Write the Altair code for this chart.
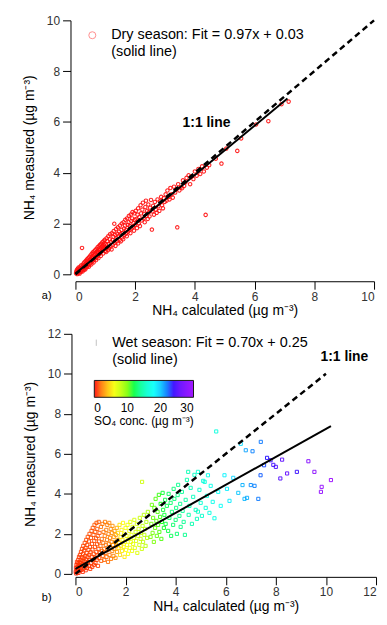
import altair as alt
import pandas as pd

FONT = "Liberation Sans"

# ---------------- data: dry season (panel a): (NH4 calculated, NH4 measured) ----------------
dry_points = [
    (0.02, 0.04), (0.03, 0.12), (0.04, 0.07), (0.05, 0.18), (0.06, 0.01), (0.07, 0.10), (0.08, 0.22),
    (0.09, 0.05), (0.10, 0.14), (0.11, 0.27), (0.12, 0.08), (0.13, 0.19), (0.14, 0.03), (0.15, 0.24),
    (0.16, 0.13), (0.17, 0.31), (0.18, 0.09), (0.19, 0.20), (0.20, 0.36), (0.21, 0.15), (0.22, 1.04),
    (0.23, 0.28), (0.24, 0.11), (0.25, 0.33), (0.26, 0.22), (0.27, 0.42), (0.28, 0.17), (0.29, 0.30),
    (0.30, 0.47), (0.31, 0.24), (0.32, 0.38), (0.33, 0.19), (0.34, 0.52), (0.35, 0.33), (0.36, 0.44),
    (0.37, 0.27), (0.38, 0.58), (0.39, 0.40), (0.40, 0.31), (0.41, 0.50), (0.42, 0.63), (0.43, 0.37),
    (0.44, 0.47), (0.45, 0.30), (0.46, 0.68), (0.47, 0.55), (0.48, 0.41), (0.49, 0.60), (0.50, 0.74),
    (0.51, 0.46), (0.52, 0.57), (0.53, 0.39), (0.54, 0.80), (0.55, 0.66), (0.56, 0.50), (0.57, 0.71),
    (0.58, 0.86), (0.59, 0.55), (0.60, 0.64), (0.61, 0.47), (0.62, 0.90), (0.63, 0.75), (0.64, 0.60),
    (0.65, 0.82), (0.66, 0.95), (0.67, 0.66), (0.68, 0.78), (0.69, 0.56), (0.70, 1.00), (0.71, 0.85),
    (0.72, 0.68), (0.73, 0.91), (0.74, 1.06), (0.75, 0.74), (0.76, 0.88), (0.77, 0.64), (0.78, 1.10),
    (0.79, 0.95), (0.80, 0.79), (0.81, 1.02), (0.82, 1.16), (0.83, 0.85), (0.84, 0.97), (0.85, 0.72),
    (0.86, 1.20), (0.87, 1.05), (0.88, 0.90), (0.89, 1.12), (0.90, 1.26), (0.91, 0.95), (0.92, 1.08),
    (0.93, 0.82), (0.94, 1.30), (0.95, 1.14), (0.96, 1.00), (0.97, 1.22), (0.98, 1.36), (0.99, 1.05),
    (1.00, 0.92),
    (1.01, 1.18), (1.03, 0.88), (1.04, 1.42), (1.06, 1.05), (1.07, 1.30), (1.09, 0.95), (1.10, 1.50),
    (1.12, 1.20), (1.13, 1.02), (1.15, 1.38), (1.16, 1.58), (1.18, 1.10), (1.19, 1.27), (1.21, 0.98),
    (1.22, 1.62), (1.24, 1.35), (1.25, 1.15), (1.27, 1.48), (1.28, 1.70), (1.30, 1.99), (1.31, 1.25),
    (1.33, 1.55), (1.34, 1.12), (1.36, 1.78), (1.37, 1.42), (1.39, 1.30), (1.40, 1.60), (1.42, 1.85),
    (1.43, 1.22), (1.45, 1.50), (1.46, 1.68), (1.48, 1.35), (1.49, 1.92), (1.51, 1.58), (1.52, 1.30),
    (1.54, 1.75), (1.55, 2.00), (1.57, 1.45), (1.58, 1.62), (1.60, 1.38), (1.61, 2.05), (1.63, 1.80),
    (1.64, 1.55), (1.66, 1.92), (1.67, 2.15), (1.69, 1.60), (1.70, 1.75), (1.72, 1.50), (1.73, 2.20),
    (1.75, 1.95), (1.76, 1.68), (1.78, 2.05), (1.79, 2.30), (1.81, 1.75), (1.82, 1.90), (1.84, 1.62),
    (1.85, 2.35), (1.87, 2.10), (1.88, 1.80), (1.90, 2.20), (1.91, 2.45), (1.93, 1.88), (1.94, 2.02),
    (1.96, 1.72), (1.97, 2.40), (1.99, 2.15),
    (2.00, 1.95), (2.02, 2.50), (2.04, 2.18), (2.06, 1.82), (2.08, 2.35), (2.10, 2.60), (2.12, 2.00),
    (2.14, 2.25), (2.16, 1.90), (2.18, 2.72), (2.20, 2.40), (2.22, 2.12), (2.24, 2.55), (2.26, 2.82),
    (2.28, 2.20), (2.30, 2.38), (2.32, 2.05), (2.34, 2.65), (2.36, 2.90), (2.38, 2.30), (2.40, 2.50),
    (2.42, 2.18), (2.44, 2.75), (2.46, 2.45), (2.48, 2.28), (2.50, 2.62), (2.53, 2.93), (2.56, 1.76),
    (2.58, 2.48), (2.60, 2.70), (2.63, 2.35), (2.66, 2.85), (2.69, 2.55), (2.72, 2.42), (2.75, 2.95),
    (2.78, 2.68), (2.81, 2.50), (2.84, 2.88), (2.87, 3.05), (2.90, 2.72), (2.93, 2.60), (2.96, 3.00),
    (2.99, 2.85),
    (3.02, 3.15), (3.05, 2.90), (3.08, 3.30), (3.12, 3.05), (3.15, 2.95), (3.18, 3.40), (3.22, 3.15),
    (3.26, 3.02), (3.30, 3.45), (3.34, 3.22), (3.38, 3.35), (3.41, 1.85), (3.44, 3.55), (3.48, 3.30),
    (3.52, 3.42), (3.57, 3.39), (3.60, 3.70), (3.64, 3.48), (3.68, 3.62), (3.72, 3.80), (3.79, 3.90),
    (3.84, 3.55), (3.88, 3.85), (3.95, 3.75), (4.00, 4.05), (4.06, 3.88), (4.12, 4.15), (4.18, 3.95),
    (4.24, 4.25), (4.30, 4.05), (4.36, 2.34), (4.40, 4.20), (4.48, 4.30),
    (4.70, 4.55), (4.89, 4.36), (5.05, 4.95), (5.42, 4.86), (5.55, 5.35), (6.05, 5.90), (6.46, 6.03),
    (6.90, 6.70), (7.14, 6.80),
]

# ---------------- data: wet season (panel b): (NH4 calculated, NH4 measured, SO4) ----------------
wet_points = [
    (0.01, 0.10, 0.2), (0.02, 0.30, 0.2), (0.03, 0.02, 0.2), (0.04, 0.45, 0.3), (0.05, 0.18, 0.2),
    (0.06, 0.60, 0.4), (0.07, 0.08, 0.3), (0.08, 0.35, 0.3), (0.09, 0.52, 0.4), (0.10, 0.22, 0.3),
    (0.11, 0.70, 0.5), (0.12, 0.05, 0.3), (0.13, 0.40, 0.4), (0.14, 0.85, 0.6), (0.15, 0.28, 0.4),
    (0.16, 0.58, 0.5), (0.17, 0.15, 0.3), (0.18, 0.95, 0.6), (0.19, 0.45, 0.5), (0.20, 0.70, 0.6),
    (0.21, 0.30, 0.4), (0.22, 1.10, 0.7), (0.23, 0.55, 0.5), (0.24, 0.20, 0.4), (0.25, 0.82, 0.6),
    (0.26, 1.25, 0.8), (0.27, 0.40, 0.5), (0.28, 0.65, 0.6), (0.29, 0.10, 0.3), (0.30, 1.00, 0.7),
    (0.31, 1.40, 0.8), (0.32, 0.50, 0.5), (0.33, 0.78, 0.6), (0.34, 0.28, 0.4), (0.35, 1.18, 0.7),
    (0.36, 0.62, 0.6), (0.37, 1.55, 0.9), (0.38, 0.38, 0.5), (0.39, 0.90, 0.7), (0.40, 1.30, 0.8),
    (0.41, 0.18, 0.4), (0.42, 0.72, 0.6), (0.43, 1.70, 0.9), (0.44, 0.48, 0.5), (0.45, 1.05, 0.7),
    (0.46, 0.30, 0.5), (0.47, 1.45, 0.8), (0.48, 0.85, 0.7), (0.49, 1.85, 1.0), (0.50, 0.60, 0.6),
    (0.52, 1.20, 0.8), (0.53, 0.40, 0.5), (0.54, 1.62, 0.9), (0.55, 0.95, 0.7), (0.56, 2.00, 1.0),
    (0.57, 0.70, 0.6), (0.58, 1.35, 0.8), (0.59, 0.25, 0.5), (0.60, 1.08, 0.8), (0.62, 1.80, 1.0),
    (0.63, 0.55, 0.6), (0.64, 2.15, 1.1), (0.65, 0.85, 0.7), (0.66, 1.50, 0.9), (0.67, 0.35, 0.5),
    (0.68, 1.22, 0.8), (0.69, 2.30, 1.1), (0.70, 0.68, 0.7), (0.72, 1.95, 1.0), (0.73, 1.00, 0.8),
    (0.74, 0.45, 0.6), (0.75, 1.65, 0.9), (0.76, 2.45, 1.2), (0.77, 0.80, 0.7), (0.78, 1.35, 0.9),
    (0.79, 2.10, 1.1), (0.80, 0.55, 0.6), (0.82, 1.78, 1.0), (0.83, 1.10, 0.8), (0.84, 2.55, 1.2),
    (0.85, 0.70, 0.7), (0.86, 1.48, 0.9), (0.87, 2.25, 1.1), (0.88, 0.92, 0.8), (0.89, 1.90, 1.0),
    (0.90, 0.40, 0.6), (0.92, 1.25, 0.9), (0.93, 2.60, 1.3), (0.94, 1.62, 1.0), (0.95, 0.80, 0.8),
    (0.96, 2.05, 1.1), (0.97, 1.05, 0.8),
    (1.00, 1.40, 1.6), (1.02, 2.35, 2.0), (1.03, 0.65, 1.4), (1.05, 1.75, 1.8), (1.06, 1.15, 1.6),
    (1.08, 2.50, 2.1), (1.09, 0.90, 1.5), (1.11, 1.55, 1.9), (1.12, 2.10, 2.0), (1.14, 1.25, 1.8),
    (1.15, 0.70, 1.6), (1.17, 1.90, 2.1), (1.18, 2.60, 2.3), (1.20, 1.05, 1.8), (1.21, 1.45, 2.0),
    (1.23, 2.20, 2.3), (1.24, 0.85, 1.8), (1.26, 1.70, 2.2), (1.27, 2.45, 2.4), (1.29, 1.20, 2.1),
    (1.30, 0.60, 1.9), (1.32, 2.00, 2.4), (1.33, 1.50, 2.3), (1.35, 2.55, 2.6), (1.36, 0.95, 2.1),
    (1.38, 1.80, 2.5), (1.39, 1.30, 2.4), (1.41, 2.25, 2.7), (1.42, 0.75, 2.2), (1.44, 1.60, 2.6),
    (1.45, 2.05, 2.8), (1.47, 1.15, 2.5), (1.48, 2.40, 2.9), (1.50, 1.45, 2.8), (1.52, 0.90, 2.6),
    (1.53, 1.85, 3.0), (1.55, 1.25, 2.9), (1.56, 2.15, 3.1), (1.58, 1.60, 3.1), (1.60, 0.80, 2.9),
    (1.61, 1.95, 3.3), (1.63, 1.40, 3.2), (1.65, 2.30, 3.4), (1.66, 1.10, 3.2), (1.68, 1.70, 3.4),
    (1.70, 2.05, 4.6), (1.72, 1.30, 4.5), (1.74, 1.55, 4.7), (1.76, 2.45, 4.9), (1.78, 0.95, 4.6),
    (1.80, 1.85, 5.0), (1.82, 1.40, 4.9), (1.84, 2.20, 5.2), (1.86, 1.15, 5.0), (1.88, 1.70, 5.3),
    (1.90, 2.55, 5.5), (1.92, 1.35, 5.3), (1.94, 2.00, 5.6), (1.96, 0.85, 5.1), (1.98, 1.60, 5.6),
    (2.00, 2.30, 5.9), (2.02, 1.20, 5.6), (2.04, 1.90, 6.0), (2.06, 1.45, 5.9), (2.08, 2.45, 6.2),
    (2.10, 1.00, 5.8), (2.12, 1.75, 6.2), (2.15, 2.15, 6.4), (2.17, 1.30, 6.1), (2.19, 2.60, 6.6),
    (2.21, 1.60, 6.4), (2.24, 1.95, 6.6), (2.26, 1.15, 6.3), (2.28, 2.35, 6.8), (2.30, 1.50, 6.6),
    (2.33, 1.80, 6.9), (2.35, 2.70, 7.1), (2.37, 1.30, 6.8), (2.40, 2.10, 7.2), (2.42, 1.65, 7.1),
    (2.45, 2.50, 7.4), (2.47, 1.05, 6.9), (2.50, 1.90, 7.4), (2.52, 2.25, 7.6), (2.55, 1.45, 7.4),
    (2.57, 2.80, 7.8), (2.60, 1.75, 7.7), (2.62, 2.05, 7.9), (2.65, 1.25, 7.6), (2.66, 4.60, 7.5),
    (2.68, 2.40, 8.1), (2.70, 1.60, 8.0), (2.73, 2.95, 8.3), (2.75, 1.95, 8.2), (2.78, 2.25, 8.4),
    (2.80, 1.40, 8.2), (2.83, 2.60, 8.6), (2.86, 1.80, 8.5), (2.89, 3.10, 8.9),
    (3.00, 1.85, 10.0), (3.03, 2.50, 10.2), (3.05, 3.45, 10.4), (3.08, 2.05, 10.2), (3.10, 2.80, 10.5),
    (3.13, 1.60, 10.1), (3.15, 3.30, 10.7), (3.18, 2.30, 10.6), (3.20, 3.75, 10.9), (3.23, 2.65, 10.8),
    (3.25, 1.90, 10.6), (3.28, 3.10, 11.0), (3.30, 2.45, 11.0), (3.33, 3.95, 11.3), (3.35, 2.10, 11.0),
    (3.38, 2.85, 11.3), (3.40, 3.50, 11.5), (3.43, 1.75, 11.0), (3.45, 2.60, 11.5), (3.48, 4.05, 11.8),
    (3.50, 3.20, 11.8), (3.53, 2.30, 11.6), (3.55, 2.95, 11.9), (3.58, 3.70, 12.1),
    (3.60, 2.50, 12.0), (3.65, 3.40, 12.3), (3.70, 2.15, 12.1), (3.72, 4.00, 12.6), (3.75, 2.80, 12.5),
    (3.80, 3.55, 12.8), (3.82, 1.90, 12.3), (3.85, 3.10, 12.9), (3.90, 2.45, 12.8), (3.92, 4.25, 13.2),
    (3.95, 3.75, 13.2), (4.00, 2.70, 13.1), (4.02, 3.30, 13.3), (4.05, 2.00, 12.9), (4.08, 3.94, 13.6),
    (4.10, 4.45, 13.8), (4.15, 2.90, 13.6), (4.18, 3.50, 13.8), (4.20, 2.35, 13.5), (4.25, 4.10, 14.1),
    (4.28, 3.15, 14.0), (4.32, 2.60, 13.9), (4.37, 1.95, 13.8), (4.40, 3.70, 14.4), (4.45, 4.70, 14.7),
    (4.50, 5.10, 14.9), (4.52, 2.95, 14.5), (4.55, 3.40, 14.7), (4.60, 4.30, 15.0), (4.65, 2.50, 14.7),
    (4.70, 3.85, 15.2), (4.75, 4.95, 15.5), (4.80, 3.20, 15.3), (4.85, 2.75, 15.2), (4.89, 3.11, 15.5),
    (4.89, 5.10, 15.9), (4.95, 4.20, 15.9), (5.00, 3.55, 15.9), (5.05, 2.90, 15.7), (5.10, 4.65, 16.3),
    (5.16, 4.60, 16.5), (5.20, 3.30, 16.3), (5.25, 3.90, 16.6), (5.29, 4.93, 17.0), (5.35, 3.05, 16.6),
    (5.40, 4.40, 17.2), (5.48, 3.60, 17.1), (5.55, 2.78, 16.9),
    (5.62, 7.12, 16.5), (5.70, 4.10, 17.8), (5.80, 3.40, 17.9), (5.95, 4.93, 18.7), (6.05, 4.25, 18.9),
    (6.15, 3.65, 19.0), (6.30, 4.80, 19.7), (6.50, 4.05, 20.1), (6.60, 6.50, 19.5), (6.67, 4.44, 20.6),
    (6.80, 6.18, 21.0), (6.75, 3.75, 20.5), (6.85, 3.80, 20.8), (7.00, 4.44, 21.5), (7.07, 6.13, 21.8),
    (7.15, 4.40, 21.8), (7.30, 3.75, 22.0), (7.39, 4.93, 22.6), (7.40, 6.60, 22.0), (7.53, 5.43, 23.0),
    (7.65, 5.80, 23.5), (7.79, 5.68, 24.0), (7.90, 5.45, 24.3), (8.00, 5.35, 24.6), (8.18, 4.77, 25.0),
    (8.25, 5.71, 25.5), (8.45, 5.02, 25.8), (8.84, 5.10, 24.0),
    (9.30, 5.63, 28.0), (9.54, 5.10, 28.5), (9.80, 4.10, 29.0), (9.83, 4.35, 29.3), (10.20, 4.69, 29.8),
]

# reference lines
one_to_one_x = [0.0, 10.0]
one_to_one_y = [0.0, 10.0]
dry_fit_x = [0.0, 7.1]
dry_fit_y = [0.03, 6.92]
wet_fit_x = [0.0, 10.2]
wet_fit_y = [0.25, 7.39]

# axes / colour scale
top_ticks = [0, 2, 4, 6, 8, 10]
bottom_ticks = [0, 2, 4, 6, 8, 10, 12]
so4_ticks = [0, 10, 20, 30]
so4_stops = [0, 2.5, 5.6, 11.5, 18.4, 23.3, 30]
so4_colors = ["#ff0000", "#ff7f00", "#ffff00", "#00ff00", "#00ffff", "#0000ff", "#9900ff"]

dry_df = pd.DataFrame(dry_points, columns=["x", "y"])
wet_df = pd.DataFrame(wet_points, columns=["x", "y", "so4"])
one_df = pd.DataFrame({"x": one_to_one_x, "y": one_to_one_y})
dry_fit_df = pd.DataFrame({"x": dry_fit_x, "y": dry_fit_y})
wet_fit_df = pd.DataFrame({"x": wet_fit_x, "y": wet_fit_y})

X_TITLE = "NH\u2084 calculated (\u00b5g m\u207b\u00b3)"
Y_TITLE = "NH\u2084 measured (\u00b5g m\u207b\u00b3)"


def make_axis(values, title, offset, label_pad=3, title_pad=8, flush=False):
    return alt.Axis(
        values=values, title=title, offset=offset, grid=False, tickSize=8,
        tickColor="black", domainColor="black", labelColor="#333333",
        labelFont=FONT, labelFontSize=12, labelPadding=label_pad, labelFlush=flush,
        labelOverlap=False,
        titleFont=FONT, titleFontSize=14, titleFontWeight="normal",
        titleColor="black", titlePadding=title_pad, format="d",
    )


def txt(s, x, y, bold=False, size=14.5, align="left"):
    return alt.Chart(pd.DataFrame({"t": [s]})).mark_text(
        font=FONT, fontSize=size, fontWeight="bold" if bold else "normal",
        align=align, baseline="middle", color="black",
    ).encode(text="t:N", x=alt.value(x), y=alt.value(y))


# ---------------- panel a ----------------
xa = alt.X("x:Q", scale=alt.Scale(domain=[0, 10], nice=False),
           axis=make_axis(top_ticks, X_TITLE, 7, label_pad=2, title_pad=2, flush=True))
ya = alt.Y("y:Q", scale=alt.Scale(domain=[0, 10], nice=False),
           axis=make_axis(top_ticks, Y_TITLE, 5, label_pad=3, title_pad=10))

pts_a = alt.Chart(dry_df).mark_point(
    shape="circle", filled=False, size=12, strokeWidth=1.1, color="#ff1010", opacity=0.9
).encode(x=xa, y=ya)
one_a = alt.Chart(one_df).mark_line(color="black", strokeWidth=2.5, strokeDash=[6, 4]).encode(x=xa, y=ya)
fit_a = alt.Chart(dry_fit_df).mark_line(color="black", strokeWidth=2).encode(x=xa, y=ya)
leg_a = alt.Chart(pd.DataFrame({"k": [1]})).mark_point(
    shape="circle", filled=False, size=50, strokeWidth=1, color="#ff6060"
).encode(x=alt.value(17), y=alt.value(15))

panel_a = alt.layer(
    pts_a, one_a, fit_a, leg_a,
    txt("Dry season:  Fit = 0.97x + 0.03", 36, 15),
    txt("(solid line)", 36, 32),
    txt("1:1 line", 108, 103, bold=True, size=14),
    txt("a)", -29, 278, size=11, align="center"),
).properties(width=301, height=256)

# ---------------- panel b ----------------
xb = alt.X("x:Q", scale=alt.Scale(domain=[0, 12], nice=False),
           axis=make_axis(bottom_ticks, X_TITLE, 3, label_pad=2, title_pad=2, flush=True))
yb = alt.Y("y:Q", scale=alt.Scale(domain=[0, 12], nice=False),
           axis=make_axis(bottom_ticks, Y_TITLE, 4, label_pad=3, title_pad=10))

pts_b = alt.Chart(wet_df).mark_point(
    shape="square", filled=False, size=10, strokeWidth=1, opacity=0.9
).encode(
    x=xb, y=yb,
    color=alt.Color(
        "so4:Q",
        scale=alt.Scale(domain=so4_stops, range=so4_colors),
        legend=alt.Legend(
            orient="none", legendX=19, legendY=47, direction="horizontal",
            gradientLength=100, gradientThickness=17, gradientStrokeColor="black",
            gradientStrokeWidth=1, values=so4_ticks, labelFont=FONT, labelFontSize=12,
            labelColor="black", labelOffset=6, labelAlign="center",
            title="SO\u2084 conc. (\u00b5g m\u207b\u00b3)", titleOrient="bottom",
            titleFont=FONT, titleFontSize=12, titleFontWeight="normal", titleColor="black",
            titleAnchor="middle", titlePadding=2,
        ),
    ),
)
one_b = alt.Chart(one_df).mark_line(color="black", strokeWidth=2.5, strokeDash=[6, 4]).encode(x=xb, y=yb)
fit_b = alt.Chart(wet_fit_df).mark_line(color="black", strokeWidth=2).encode(x=xb, y=yb)
leg_b = alt.Chart(pd.DataFrame({"k": [1]})).mark_point(
    shape="M0,-1L0,1", filled=False, size=40, strokeWidth=1, color="#aaaaaa"
).encode(x=alt.value(21), y=alt.value(9))

panel_b = alt.layer(
    pts_b, one_b, fit_b, leg_b,
    txt("Wet season: Fit = 0.70x + 0.25", 37, 9),
    txt("(solid line)", 37, 26),
    txt("1:1 line", 247, 23, bold=True, size=14),
    txt("b)", -29, 266, size=11, align="center"),
).properties(width=303, height=242)

chart = alt.vconcat(panel_a, panel_b, spacing=10).resolve_legend(color="independent").properties(
    padding={"left": 14, "top": 4, "right": 0, "bottom": 0}
).configure_view(stroke=None).configure_axis(domainWidth=1, tickWidth=1)

chart.save("out.html", embed_options={"renderer": "svg", "actions": False})
